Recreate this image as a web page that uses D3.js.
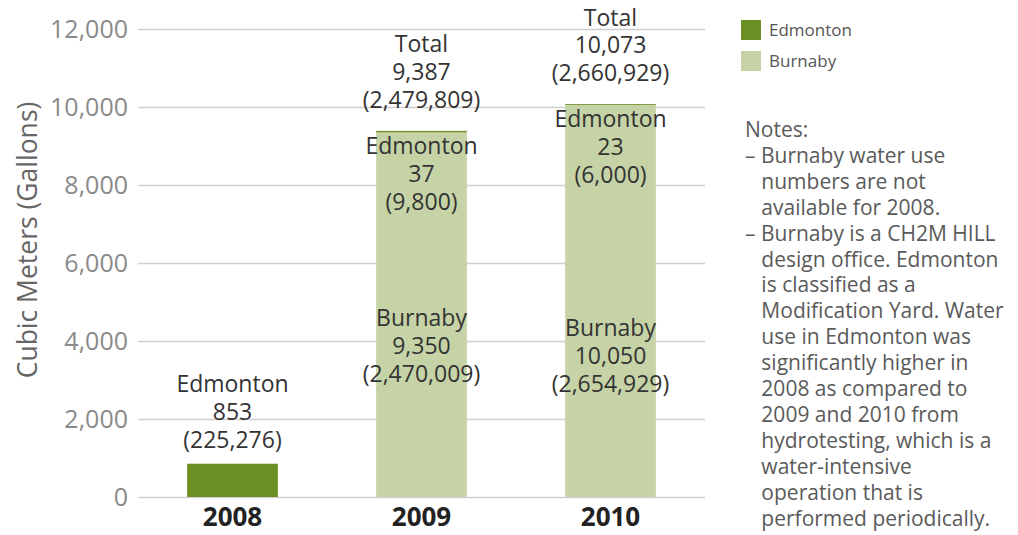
<!DOCTYPE html>
<html>
<head>
<meta charset="utf-8">
<script src="https://cdn.jsdelivr.net/npm/d3@7"></script>
<style>
  body { margin: 0; background: #fff; }
  text { font-family: "Open Sans", Lato, sans-serif; }
</style>
</head>
<body>
<svg width="1018" height="535"></svg>
<script>
const years = ['2008', '2009', '2010'];
const edmonton = [853, 37, 23];
const burnaby = [0, 9350, 10050];
const edmontonGallons = ['225,276', '9,800', '6,000'];
const burnabyGallons = [null, '2,470,009', '2,654,929'];
const totalGallons = [null, '2,479,809', '2,660,929'];
const yTicks = [0, 2000, 4000, 6000, 8000, 10000, 12000];
const notes = [
  'Notes:',
  '– Burnaby water use',
  '   numbers are not',
  '   available for 2008.',
  '– Burnaby is a CH2M HILL',
  '   design office. Edmonton',
  '   is classified as a',
  '   Modification Yard. Water',
  '   use in Edmonton was',
  '   significantly higher in',
  '   2008 as compared to',
  '   2009 and 2010 from',
  '   hydrotesting, which is a',
  '   water-intensive',
  '   operation that is',
  '   performed periodically.'
];

const colors = { Edmonton: '#6b8f23', Burnaby: '#c5d3a6' };
const fmt = d3.format(',');

const svg = d3.select('svg');
const plotL = 138, plotR = 705, plotT = 29, plotB = 497;

const x = d3.scaleBand()
  .domain(years)
  .range([plotL, plotR])
  .paddingInner(0.52)
  .paddingOuter(0.26);

const y = d3.scaleLinear()
  .domain([0, 12000])
  .range([plotB, plotT]);

// grid + y ticks
const yAxis = svg.append('g')
  .attr('transform', `translate(${plotL},0)`)
  .call(d3.axisLeft(y).tickValues(yTicks).tickFormat(fmt).tickSize(-(plotR - plotL)).tickPadding(10));
yAxis.select('.domain').remove();
yAxis.selectAll('.tick line').attr('stroke', '#cfcfcf').attr('stroke-width', 1.5);
yAxis.selectAll('.tick text')
  .attr('fill', '#8a8a8a')
  .style('font-size', '25px');

// y label
svg.append('text')
  .attr('transform', `translate(37,240) rotate(-90)`)
  .attr('text-anchor', 'middle')
  .attr('fill', '#666')
  .style('font-size', '26.5px')
  .text('Cubic Meters (Gallons)');

// stacked bars
const rows = years.map((yr, i) => ({ year: yr, Burnaby: burnaby[i], Edmonton: edmonton[i] }));
const stack = d3.stack().keys(['Burnaby', 'Edmonton'])(rows);

svg.append('g')
  .selectAll('g')
  .data(stack)
  .join('g')
    .attr('fill', d => colors[d.key])
  .selectAll('rect')
  .data(d => d)
  .join('rect')
    .attr('x', d => x(d.data.year))
    .attr('width', x.bandwidth())
    .attr('y', d => y(d[1]))
    .attr('height', d => y(d[0]) - y(d[1]));

// x labels
svg.append('g')
  .selectAll('text')
  .data(years)
  .join('text')
    .attr('x', d => x(d) + x.bandwidth() / 2)
    .attr('y', 526)
    .attr('text-anchor', 'middle')
    .attr('fill', '#222')
    .style('font-size', '26px')
    .style('font-weight', 'bold')
    .text(d => d);

// multi-line labels, cy = centre of first line
const lh = 27.8;
function block(cx, cy, lines) {
  const t = svg.append('text')
    .attr('text-anchor', 'middle')
    .attr('fill', '#333')
    .style('font-size', '23px');
  lines.forEach((s, k) => {
    t.append('tspan').attr('x', cx).attr('y', cy + k * lh + 8).text(s);
  });
}

years.forEach((yr, i) => {
  const cx = x(yr) + x.bandwidth() / 2;
  const total = edmonton[i] + burnaby[i];
  const topY = y(total);
  if (burnaby[i] === 0) {
    block(cx, topY - 24 - 2 * lh, ['Edmonton', fmt(edmonton[i]), `(${edmontonGallons[i]})`]);
  } else {
    block(cx, topY - 31 - 2 * lh, ['Total', fmt(total), `(${totalGallons[i]})`]);
    block(cx, topY + 15, ['Edmonton', fmt(edmonton[i]), `(${edmontonGallons[i]})`]);
    const shift = i === 1 ? -5 : 5;
    block(cx, y(3750) - lh + shift, ['Burnaby', fmt(burnaby[i]), `(${burnabyGallons[i]})`]);
  }
});

// legend
const legend = svg.append('g').attr('transform', 'translate(741,20)');
['Edmonton', 'Burnaby'].forEach((k, i) => {
  legend.append('rect')
    .attr('x', 0).attr('y', i * 31)
    .attr('width', 20).attr('height', 20)
    .attr('fill', colors[k]);
  legend.append('text')
    .attr('x', 28).attr('y', i * 31 + 16)
    .attr('fill', '#555')
    .style('font-size', '17px')
    .text(k);
});

// notes
const nt = svg.append('text')
  .attr('fill', '#5a5a5a')
  .style('font-size', '21px')
  .attr('xml:space', 'preserve')
  .style('white-space', 'pre');
notes.forEach((s, k) => {
  nt.append('tspan').attr('x', 745).attr('y', 137 + k * 25.9).text(s);
});
</script>
</body>
</html>
